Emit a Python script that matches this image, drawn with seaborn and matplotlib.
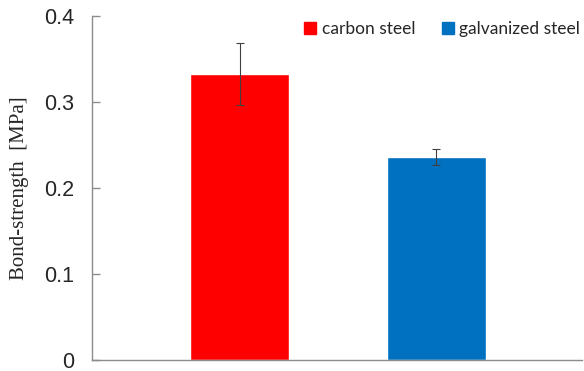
import matplotlib
matplotlib.use("Agg")
import matplotlib.pyplot as plt
from matplotlib.lines import Line2D
import seaborn as sns
import pandas as pd

# Bond strength of the two reinforcement types
materials = ["carbon steel", "galvanized steel"]
strength = [0.333, 0.236]
strength_err = [0.036, 0.009]
bar_colors = ["#FF0000", "#0070C0"]
y_ticks = [0, 0.1, 0.2, 0.3, 0.4]
y_tick_labels = ["0", "0.1", "0.2", "0.3", "0.4"]

df = pd.DataFrame({"material": materials, "strength": strength})

sns.set_style("white")
fig = plt.figure(figsize=(5.84, 3.71), dpi=100)
ax = fig.add_axes([0.1575, 0.029, 0.8391, 0.9279])

sns.barplot(data=df, x="material", y="strength", hue="material",
            palette=bar_colors, width=0.5, errorbar=None, legend=False,
            saturation=1, ax=ax)

ax.errorbar(range(len(materials)), strength, yerr=strength_err, fmt="none",
            ecolor="#404040", elinewidth=0.8, capsize=3, capthick=0.8)

ax.set_xlim(-0.75, 1.74)
ax.set_ylim(0, 0.4)
ax.set_yticks(y_ticks)
ax.set_yticklabels(y_tick_labels, fontsize=15.5, family="Liberation Sans")
ax.set_xticks([])
ax.set_xlabel("")
ax.set_ylabel("Bond-strength  [MPa]", family="Liberation Serif", fontsize=15)
ax.yaxis.set_label_coords(-0.128, 0.5)

for side in ["top", "right"]:
    ax.spines[side].set_visible(False)
for side in ["left", "bottom"]:
    ax.spines[side].set_color("#8c8c8c")
    ax.spines[side].set_linewidth(1.0)
ax.tick_params(axis="y", direction="in", length=6, width=1, color="#8c8c8c",
               pad=13, left=True)

handles = [Line2D([], [], marker="s", linestyle="none", markersize=8,
                  markerfacecolor=c, markeredgecolor=c) for c in bar_colors]
ax.legend(handles, materials, loc="upper right", ncol=2, frameon=False,
          bbox_to_anchor=(1.0, 0.99), handlelength=0.6, handletextpad=0.35,
          columnspacing=1.6, borderaxespad=0.0, borderpad=0.1,
          prop={"family": "Lato", "size": 12.5})

fig.savefig("out.png", dpi=100)
